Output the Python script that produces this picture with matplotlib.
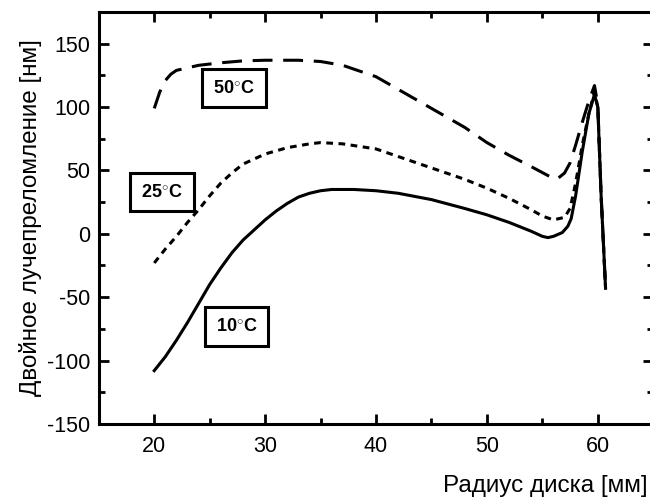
import matplotlib
matplotlib.use("Agg")
import matplotlib.pyplot as plt
from matplotlib.ticker import MultipleLocator

plt.rcParams['font.family'] = ['Liberation Sans', 'DejaVu Sans']
plt.rcParams['mathtext.fontset'] = 'custom'
plt.rcParams['mathtext.rm'] = 'Liberation Sans'
plt.rcParams['mathtext.bf'] = 'Liberation Sans:bold'
plt.rcParams['axes.unicode_minus'] = False

# 10°C (solid)
x10 = [20, 21, 22, 23, 24, 25, 26, 27, 28, 29, 30, 31, 32, 33, 34, 35, 36, 38, 40, 42, 45, 48,
       50, 52, 54, 55, 55.5, 56, 56.8, 57.3, 57.6, 58, 58.6, 59.2, 59.7, 60.0, 60.3, 60.7]
y10 = [-108, -97, -84, -70, -55, -40, -27, -15, -5, 3, 11, 18, 24, 29, 32, 34, 35, 35, 34, 32, 27, 20,
       15, 9, 2, -2, -3, -2, 1, 6, 12, 30, 65, 95, 110, 100, 30, -43]

# 25°C (dotted)
x25 = [20, 21, 22, 23, 24, 25, 26, 27, 28, 30, 32, 34, 35, 37, 40, 42, 45, 48, 50, 52, 54, 55,
       56, 57, 57.5, 58, 58.6, 59.2, 59.7, 60.0, 60.3, 60.7]
y25 = [-23, -12, -2, 9, 19, 30, 40, 48, 55, 63, 68, 71, 72, 71, 67, 61, 52, 43, 36, 28, 19, 14,
       11, 13, 20, 40, 70, 95, 112, 100, 30, -43]

# 50°C (dashed)
x50 = [20, 20.5, 21, 21.5, 22, 23, 24, 26, 28, 30, 33, 35, 37, 40, 42, 45, 48, 50, 52, 54, 55.5,
       56.3, 57, 57.5, 58, 58.6, 59.2, 59.7, 60.0, 60.3, 60.7]
y50 = [99, 112, 121, 126, 129, 131, 133, 135, 136.5, 137, 137, 136, 133, 124, 114, 99, 84, 72, 62, 53, 46,
       43, 48, 56, 70, 88, 105, 117, 102, 30, -43]

labels = ["10", "25", "50"]
label_pos = [(27.4, -73), (20.7, 33), (27.2, 115)]

fig = plt.figure(figsize=(6.5, 5.04), dpi=100)
ax = fig.add_axes([0.152, 0.159, 0.853, 0.817])

lw = 2.2
ax.plot(x10, y10, color='black', lw=lw, linestyle='-')
ax.plot(x25, y25, color='black', lw=lw, linestyle=(0, (2.2, 1.8)))
ax.plot(x50, y50, color='black', lw=lw, linestyle=(0, (6.5, 3.5)))

for lab, (lx, ly) in zip(labels, label_pos):
    ax.text(lx, ly, lab + r"$^{\circ}$C", fontsize=13, fontweight='bold', ha='center', va='center',
            bbox=dict(boxstyle='square,pad=0.6', fc='white', ec='black', lw=2.2))

ax.set_xlim(15, 65)
ax.set_ylim(-150, 175)
ax.set_xticks([20, 30, 40, 50, 60])
ax.set_yticks([-150, -100, -50, 0, 50, 100, 150])
ax.xaxis.set_minor_locator(MultipleLocator(5))
ax.yaxis.set_minor_locator(MultipleLocator(25))
ax.tick_params(which='both', direction='in', top=True, right=True, width=2, labelsize=15.5)
ax.tick_params(axis='x', which='major', pad=9)
ax.tick_params(axis='y', which='major', pad=6)
ax.tick_params(which='major', length=7)
ax.tick_params(which='minor', length=4)
for s in ax.spines.values():
    s.set_linewidth(2.2)

ax.set_ylabel("Двойное лучепреломление [нм]", fontsize=17.5, labelpad=4)
fig.text(0.996, 0.014, "Радиус диска [мм]", fontsize=17.5, ha='right', va='bottom')

fig.savefig("out.png", dpi=100)
